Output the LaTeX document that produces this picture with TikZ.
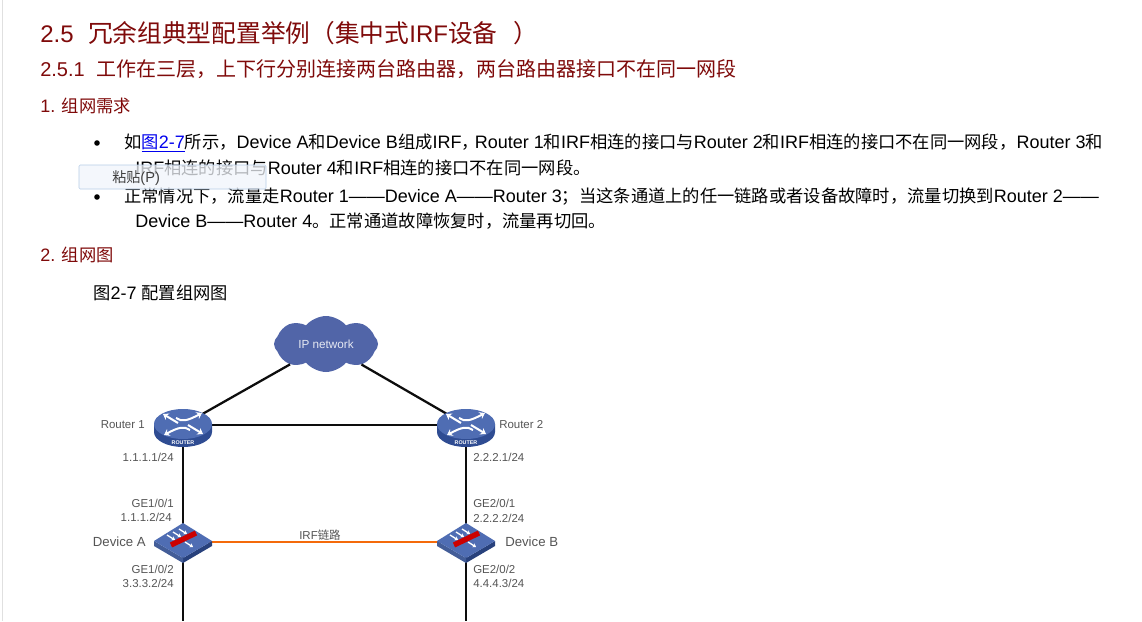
\documentclass[tikz,border=0pt]{standalone}
\usepackage{fontspec}
\usepackage{xcolor}
\usetikzlibrary{arrows.meta,positioning,calc,shapes.geometric,shapes.symbols}
\setmainfont{Liberation Sans}
\newfontfamily\cjkfont{Noto Sans CJK SC}
\newfontfamily\cjkbody[Scale=0.96]{Noto Sans CJK SC}
\newfontfamily\cjktitle[Scale=1.03]{Noto Sans CJK SC}
\newcommand{\zh}[1]{{\cjkfont #1}}
\definecolor{headred}{HTML}{7F0A0A}
\definecolor{linkblue}{HTML}{0000EE}
\definecolor{labelgray}{HTML}{555555}
\definecolor{netblue}{HTML}{5165A8}
\definecolor{faceblue}{HTML}{4F6DB3}
\definecolor{sideblue}{HTML}{2F4C92}
\definecolor{irforange}{HTML}{F46A0A}
\definecolor{popupline}{HTML}{B7CDE8}
\definecolor{popupfill}{HTML}{F1F5FB}
\tikzset{
  title/.style={anchor=base west,inner sep=0,text=headred,font=\let\cjkfont\cjktitle\fontsize{18}{20}\selectfont},
  subtitle/.style={anchor=base west,inner sep=0,text=headred,font=\fontsize{15}{18}\selectfont},
  heading/.style={anchor=base west,inner sep=0,text=headred,font=\let\cjkfont\cjkbody\fontsize{13.5}{16}\selectfont},
  bodyline/.style={anchor=base west,inner sep=0,font=\let\cjkfont\cjkbody\fontsize{13.5}{16}\selectfont},
  lbl/.style={inner sep=0,text=labelgray,font=\fontsize{8.6}{10}\selectfont},
  devlbl/.style={inner sep=0,text=labelgray,font=\fontsize{9.9}{12}\selectfont},
  link/.style={line width=1.7pt,draw=black!95},
  rarrow/.style={line width=1.5pt,draw=white,-{Stealth[length=4pt,width=5.5pt]}},
  routernode/.style={ellipse,inner sep=0,minimum width=30pt,minimum height=16pt},
  devicenode/.style={diamond,inner sep=0,minimum width=30pt,minimum height=16pt},
  routerpic/.pic={
    \fill[sideblue] (-29,0) -- (-29,8) arc[start angle=180,end angle=0,x radius=29,y radius=15] -- (29,0) -- cycle;
    \fill[faceblue] (0,0) ellipse[x radius=29,y radius=15];
    \draw[rarrow] (-5,-1) -- (-20,-10);
    \draw[rarrow] (-7,-6) .. controls (-1,-2) and (4,-3) .. (19,-11);
    \draw[rarrow] (5,1) -- (20,10);
    \draw[rarrow] (7,6) .. controls (1,2) and (-4,3) .. (-19,11);
    \node[text=white,inner sep=0,font=\bfseries\fontsize{4}{5}\selectfont] at (0,18.5) {ROUTER};
  },
  devicepic/.pic={
    \fill[sideblue!85!black] (0,17) -- (29,0) -- (29,5) -- (0,22) -- cycle;
    \fill[faceblue!85!black] (0,17) -- (-29,0) -- (-29,5) -- (0,22) -- cycle;
    \fill[faceblue] (-29,0) -- (0,-18) -- (29,0) -- (0,17) -- cycle;
    \foreach \dx/\dy in {-11/-3,-5/-6,1/-9} {
      \draw[line width=1pt,draw=white,-{Stealth[length=2.5pt,width=3.5pt]}] (\dx-5,\dy-3) -- (\dx+3,\dy+2);
    }
    \draw[line width=1pt,draw=white,-{Stealth[length=2.5pt,width=3.5pt]}] (2,1) -- (10,6);
    \draw[line width=4pt,draw=red!80!black] (-12,4) -- (13,-8);
  }
}

\begin{document}
\begin{tikzpicture}[x=0.75pt,y=-0.75pt]
\useasboundingbox (0,0) rectangle (1142,621);
\fill[white] (0,0) rectangle (1142,621);
\draw[draw=black!12] (2,0)--(2,621);

\node[title] (sec) at (40,42) {2.5\hspace{.6em}\zh{冗余组典型配置举例（集中式}IRF\zh{设备}\hspace{.65em}\zh{）}};
\node[subtitle] (subsec) at (40,76) {2.5.1\hspace{.6em}\zh{工作在三层，上下行分别连接两台路由器，两台路由器接口不在同一网段}};
\node[heading] (need) at (40,112) {1. \zh{组网需求}};
\fill (97,143) circle[radius=2.8];
\node[bodyline] (lineA) at (124,148) {\zh{如}\textcolor{linkblue}{\underline{\zh{图}2-7}}\zh{所示，}Device A\zh{和}Device B\zh{组成}IRF\zh{，}\hspace{-3pt}Router 1\zh{和}IRF\zh{相连的接口与}Router 2\zh{和}IRF\zh{相连的接口不在同一网段，}Router 3\zh{和}};
\node[bodyline] (lineB) at (135,174) {IRF\zh{相连的接口与}Router 4\zh{和}IRF\zh{相连的接口不在同一网段。}};
\fill (97,197) circle[radius=2.8];
\node[bodyline] (lineC) at (124,202) {\zh{正常情况下，流量走}Router 1——Device A——Router 3\zh{；当这条通道上的任一链路或者设备故障时，流量切换到}Router 2——};
\node[bodyline] (lineD) at (135,227) {Device B——Router 4\zh{。正常通道故障恢复时，流量再切回。}};
\node[heading] (graph) at (40,261) {2. \zh{组网图}};
\node[bodyline] (caption) at (93,299) {\zh{图}2-7 \zh{配置组网图}};

% paste popup
\draw[draw=popupline,fill=popupfill,fill opacity=.75,rounded corners=1pt] (79,165) rectangle (266,189);
\node[bodyline,anchor=west,font=\let\cjkfont\cjkbody\fontsize{11}{13}\selectfont,text=black!75] (paste) at (112,178) {\zh{粘贴}(P)};

% devices
\node[cloud,cloud puffs=8,cloud puff arc=100,aspect=1.9,fill=netblue,inner sep=0,minimum width=78pt,minimum height=42pt,text=white!85!netblue,font=\fontsize{8.8}{10}\selectfont] (net) at (326,344) {IP network};
\node[routernode] (routerA) at (183,425) {};
\node[routernode] (routerB) at (466,425) {};
\node[devicenode] (deviceA) at (183,542) {};
\node[devicenode] (deviceB) at (466,542) {};
\coordinate (endA) at (183,621);
\coordinate (endB) at (466,621);

\draw[link] (net) -- (routerA);
\draw[link] (net) -- (routerB);
\draw[link] (routerA) -- (routerB);
\draw[link] (routerA) -- (deviceA);
\draw[link] (routerB) -- (deviceB);
\draw[link] (deviceA) -- (endA);
\draw[link] (deviceB) -- (endB);
\draw[line width=2pt,draw=irforange] (deviceA) -- (deviceB);

\path (183,424) pic {routerpic} (466,424) pic {routerpic};
\path (183,541) pic {devicepic} (466,541) pic {devicepic};

% labels
\node[lbl,anchor=east] (nameRA) at (145,425) {Router 1};
\node[lbl,anchor=west] (nameRB) at (499,425) {Router 2};
\node[lbl,anchor=east] (ipRA) at (174,457) {1.1.1.1/24};
\node[lbl,anchor=west] (ipRB) at (473,457) {2.2.2.1/24};
\node[lbl,anchor=east] (portA) at (174,503) {GE1/0/1};
\node[lbl,anchor=east] (ipA) at (172,517) {1.1.1.2/24};
\node[lbl,anchor=west] (portB) at (473,503) {GE2/0/1};
\node[lbl,anchor=west] (ipB) at (473,518) {2.2.2.2/24};
\node[devlbl,anchor=east] (nameA) at (146,542) {Device A};
\node[devlbl,anchor=west] (nameB) at (505,542) {Device B};
\node[lbl,anchor=east] (portC) at (174,569) {GE1/0/2};
\node[lbl,anchor=east] (ipC) at (174,583) {3.3.3.2/24};
\node[lbl,anchor=west] (portD) at (473,569) {GE2/0/2};
\node[lbl,anchor=west] (ipD) at (473,583) {4.4.4.3/24};
\node[lbl] (irf) at (320,535) {IRF\zh{链路}};
\end{tikzpicture}
\end{document}
